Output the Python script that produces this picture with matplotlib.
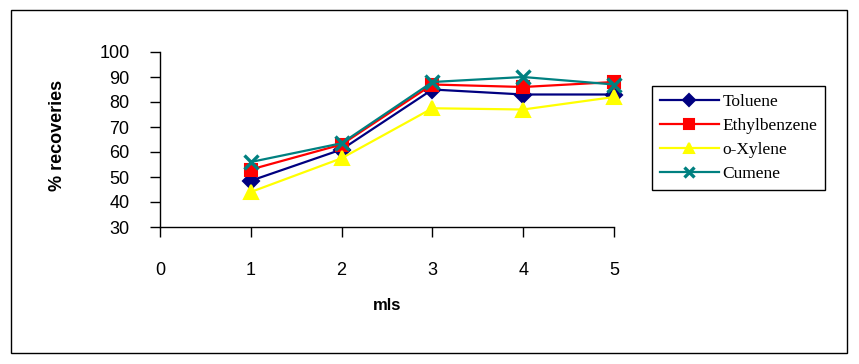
import matplotlib
matplotlib.use("Agg")
import matplotlib.pyplot as plt
from matplotlib.patches import Rectangle

mls = [1, 2, 3, 4, 5]
toluene = [48.5, 61, 85, 83, 83]
ethylbenzene = [53, 63, 87, 86, 88]
o_xylene = [44, 57.5, 77.5, 77, 82]
cumene = [56, 63.5, 88, 90, 87]

y_ticks = [30, 40, 50, 60, 70, 80, 90, 100]
x_ticks = [0, 1, 2, 3, 4, 5]

plt.rcParams['font.family'] = ['Liberation Sans', 'DejaVu Sans']

fig = plt.figure(figsize=(8.59, 3.64), dpi=100)
ax = fig.add_axes([160 / 859, 1 - 227 / 364, 454 / 859, 175 / 364])

series = [
    ("Toluene", toluene, "#000080", "D", 8, 1.5),
    ("Ethylbenzene", ethylbenzene, "#ff0000", "s", 9, 1.5),
    ("o-Xylene", o_xylene, "#ffff00", "^", 10, 1.5),
    ("Cumene", cumene, "#008080", "x", 10, 2.4),
]
for name, vals, col, mk, ms, mew in series:
    ax.plot(mls, vals, color=col, lw=1.6, marker=mk, ms=ms, mfc=col, mec=col,
            mew=mew, label=name, clip_on=False)

ax.set_xlim(0, 5)
ax.set_ylim(30, 100)
ax.set_xticks(x_ticks)
ax.set_yticks(y_ticks)
ax.spines['top'].set_visible(False)
ax.spines['right'].set_visible(False)
for s in ['left', 'bottom']:
    ax.spines[s].set_linewidth(1)
ax.tick_params(axis='both', direction='out', length=7, width=1, labelsize=13)
ax.tick_params(axis='y', pad=15)
ax.tick_params(axis='x', pad=18)

ax.set_xlabel("mls", fontsize=12, fontweight='bold', labelpad=14)
fig.text(57 / 859, 1 - 135 / 364, "% recoveries", rotation=90, fontsize=13,
         fontweight='bold', ha='center', va='center')

fig.legend(loc='upper left', bbox_to_anchor=(652 / 859, 1 - 86 / 364),
           prop={'family': ['Liberation Serif', 'DejaVu Serif'], 'size': 12.5},
           handlelength=3.4, handletextpad=0.2, labelspacing=0.45,
           borderpad=0.45, borderaxespad=0, fancybox=False, framealpha=1,
           edgecolor='black', markerscale=0.75)
leg = fig.legends[0]
leg.get_frame().set_linewidth(1)

fig.add_artist(Rectangle((11 / 859, 1 - 353 / 364), 836 / 859, 343 / 364,
                         transform=fig.transFigure, fill=False, lw=1,
                         edgecolor='black'))

fig.savefig("out.png", dpi=100)
